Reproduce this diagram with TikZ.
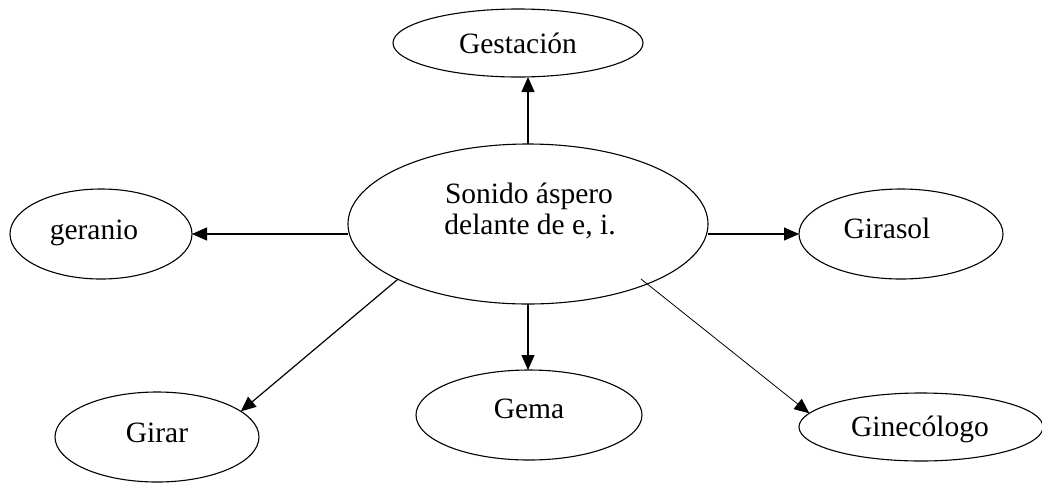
\documentclass[tikz,border=0pt]{standalone}
\usepackage{fontspec}
\setmainfont{Liberation Serif}
\usetikzlibrary{shapes.geometric,arrows.meta}
\begin{document}
\begin{tikzpicture}[x=1pt,y=-1pt,
  ell/.style={draw,ellipse,line width=1.1pt,inner sep=0pt,outer sep=0pt},
  lbl/.style={anchor=base,font=\fontsize{29.5}{31}\selectfont,inner sep=0pt},
  arr/.style={line width=1.2pt,-{Triangle[length=15pt,width=13pt]}},
  thinarr/.style={line width=0.8pt,-{Triangle[length=15pt,width=13pt]}}]
\useasboundingbox (0,0) rectangle (1042,483);
% ellipses
\node[ell,minimum width=250pt,minimum height=68pt] (gest) at (518,43) {};
\node[ell,minimum width=360pt,minimum height=160pt] (c) at (528,224) {};
\node[ell,minimum width=182pt,minimum height=90pt] (ger) at (101,234) {};
\node[ell,minimum width=204pt,minimum height=90pt] (gis) at (901,234) {};
\node[ell,minimum width=204pt,minimum height=90pt] (gir) at (157,437) {};
\node[ell,minimum width=226pt,minimum height=90pt] (gem) at (529,415) {};
\node[ell,minimum width=244pt,minimum height=68pt] (gin) at (921,427) {};
% texts
\node[lbl] (tgest) at (518,53) {Gestación};
\node[lbl] (tc1) at (529,203) {Sonido áspero};
\node[lbl] (tc2) at (530,234) {delante de e, i.};
\node[lbl] (tger) at (94,239) {geranio};
\node[lbl] (tgis) at (887,238) {Girasol};
\node[lbl] (tgir) at (157,442) {Girar};
\node[lbl] (tgem) at (529,418) {Gema};
\node[lbl] (tgin) at (920,436) {Ginecólogo};
% connectors
\coordinate (gs) at (641,279);
\draw[arr] (c.north) -- (c.north |- gest.south);
\draw[arr] (c.west |- ger.east) -- (ger.east);
\draw[arr] (c.east |- gis.west) -- (gis.west);
\draw[arr] (c.south) -- (c.south |- gem.north);
\draw[arr] (c.203) -- (gir.17);
\draw[thinarr] (gs) -- (gin.173);
\end{tikzpicture}
\end{document}
